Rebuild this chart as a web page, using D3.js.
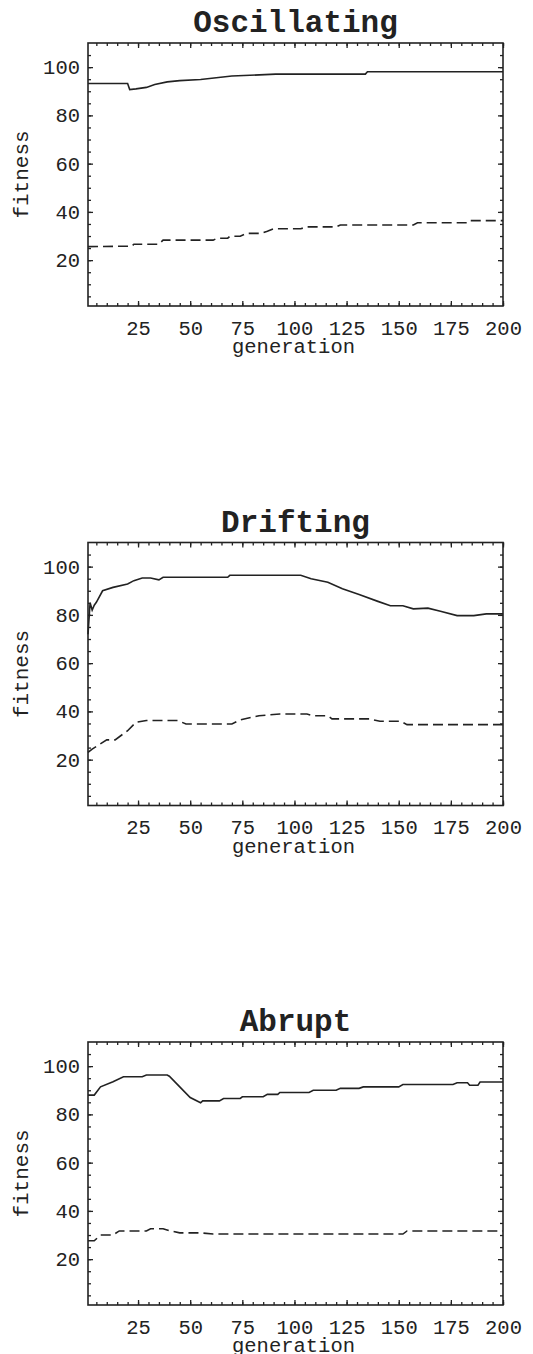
<!DOCTYPE html>
<html>
<head>
<meta charset="utf-8">
<script src="https://cdn.jsdelivr.net/npm/d3@7"></script>
<style>
  body { margin: 0; background: #fff; }
  svg text { font-family: "Liberation Mono", "Courier New", monospace; fill: #222; }
</style>
</head>
<body>
<div id="chart"></div>
<script>
// panel titles
const titles = ['Oscillating', 'Drifting', 'Abrupt'];

// best-of-generation fitness, [generation, fitness]
const oscillatingBest = [[1, 93.2], [20, 93.2], [21, 90.7], [24, 91.0], [29, 91.6], [33, 92.8], [39, 93.9],
  [45, 94.4], [55, 94.9], [70, 96.3], [91, 97.1], [134, 97.1], [135, 98.1], [200, 98.1]];
const driftingBest = [[1, 72], [2, 85], [3, 82], [4, 84], [5, 85.2], [8, 90], [13, 91.4], [20, 92.8],
  [23, 94.2], [27, 95.3], [31, 95.3], [35, 94.5], [37, 95.6], [68, 95.6], [69, 96.4], [103, 96.4],
  [108, 95], [116, 93.5], [123, 90.8], [131, 88.4], [140, 85.6], [146, 83.8], [152, 83.8], [157, 82.5],
  [164, 82.8], [170, 81.5], [178, 79.7], [186, 79.7], [192, 80.4], [200, 80.4]];
const abruptBest = [[1, 88], [4, 88], [7, 91.4], [13, 93.5], [18, 95.6], [27, 95.6], [29, 96.3], [39, 96.3],
  [40, 95.8], [45, 91.4], [50, 87.0], [55, 84.8], [56, 85.6], [64, 85.6], [66, 86.6], [74, 86.6],
  [75, 87.3], [85, 87.3], [87, 88.3], [92, 88.3], [93, 89.1], [107, 89.1], [109, 90.0], [120, 90.0],
  [122, 90.8], [131, 90.8], [133, 91.4], [150, 91.4], [152, 92.4], [176, 92.4], [178, 93.1], [183, 93.1],
  [184, 92.1], [188, 92.1], [189, 93.4], [200, 93.4]];

// average fitness, [generation, fitness]
const oscillatingAvg = [[1, 25.6], [22, 25.8], [23, 26.6], [35, 26.6], [37, 28.3], [61, 28.3], [63, 29.1],
  [68, 29.1], [69, 29.9], [74, 29.9], [77, 31.1], [84, 31.1], [87, 32.0], [90, 33.0], [103, 33.0],
  [106, 33.8], [120, 33.8], [122, 34.6], [157, 34.6], [159, 35.5], [183, 35.5], [184, 36.4], [200, 36.4]];
const driftingAvg = [[1, 23], [3, 24.4], [10, 28.2], [14, 28.2], [20, 32], [24, 35.5], [29, 36.2], [44, 36.2],
  [48, 34.8], [70, 34.8], [74, 36.5], [83, 38.2], [93, 38.9], [106, 38.9], [109, 38.2], [116, 38.2],
  [118, 36.9], [136, 36.9], [141, 35.9], [151, 35.9], [154, 34.5], [200, 34.5]];
const abruptAvg = [[1, 27.6], [4, 27.6], [7, 30], [13, 30], [16, 31.7], [29, 31.7], [31, 32.6], [37, 32.6],
  [40, 31.8], [45, 30.9], [55, 30.9], [61, 30.4], [152, 30.4], [154, 31.7], [200, 31.7]];

const bestSeries = [oscillatingBest, driftingBest, abruptBest];
const avgSeries = [oscillatingAvg, driftingAvg, abruptAvg];

// axis ticks
const xLabelTicks = [25, 50, 75, 100, 125, 150, 175, 200];
const xMinorTicks = d3.range(5, 201, 5);
const yLabelTicks = [20, 40, 60, 80, 100];
const yMinorTicks = d3.range(5, 110, 5);

const W = 533, H = 1354;
const left = 88, right = 503, plotH = 263;
const panelStep = 499.5, firstTop = 43;

const svg = d3.select('#chart').append('svg')
  .attr('width', W)
  .attr('height', H);

const x = d3.scaleLinear().domain([1, 200]).range([left, right]);

titles.forEach((title, i) => {
  const top = firstTop + i * panelStep;
  const bottom = top + plotH;
  const y = d3.scaleLinear().domain([1, 110]).range([bottom, top]);
  const g = svg.append('g');

  // title
  g.append('text')
    .attr('x', (left + right) / 2)
    .attr('y', top - 11)
    .attr('text-anchor', 'middle')
    .style('font-size', '31px')
    .style('font-weight', 'bold')
    .text(title);

  // minor ticks, inward, on all four sides
  g.append('g').attr('transform', `translate(0,${bottom})`)
    .call(d3.axisBottom(x).tickValues(xMinorTicks).tickSize(-3).tickFormat(''));
  g.append('g').attr('transform', `translate(0,${top})`)
    .call(d3.axisTop(x).tickValues(xMinorTicks).tickSize(-3).tickFormat(''));
  g.append('g').attr('transform', `translate(${left},0)`)
    .call(d3.axisLeft(y).tickValues(yMinorTicks).tickSize(-3).tickFormat(''));
  g.append('g').attr('transform', `translate(${right},0)`)
    .call(d3.axisRight(y).tickValues(yMinorTicks).tickSize(-3).tickFormat(''));

  // major ticks with labels
  g.append('g').attr('transform', `translate(0,${bottom})`)
    .call(d3.axisBottom(x).tickValues(xLabelTicks).tickSize(-5).tickPadding(14));
  g.append('g').attr('transform', `translate(0,${top})`)
    .call(d3.axisTop(x).tickValues(xLabelTicks).tickSize(-5).tickFormat(''));
  g.append('g').attr('transform', `translate(${left},0)`)
    .call(d3.axisLeft(y).tickValues(yLabelTicks).tickSize(-5).tickPadding(8));
  g.append('g').attr('transform', `translate(${right},0)`)
    .call(d3.axisRight(y).tickValues(yLabelTicks).tickSize(-5).tickFormat(''));

  g.selectAll('.domain').remove();
  g.selectAll('.tick line').attr('stroke', '#222').attr('stroke-width', 1.3);
  g.selectAll('.tick text').style('font-size', '20.5px').attr('fill', '#222');

  // frame
  g.append('rect')
    .attr('x', left).attr('y', top)
    .attr('width', right - left).attr('height', plotH)
    .attr('fill', 'none')
    .attr('stroke', '#222')
    .attr('stroke-width', 1.6);

  const line = d3.line().x(d => x(d[0])).y(d => y(d[1]));

  g.append('path')
    .attr('d', line(bestSeries[i]))
    .attr('fill', 'none')
    .attr('stroke', '#222')
    .attr('stroke-width', 1.6);

  g.append('path')
    .attr('d', line(avgSeries[i]))
    .attr('fill', 'none')
    .attr('stroke', '#222')
    .attr('stroke-width', 1.6)
    .attr('stroke-dasharray', '10,5');

  // axis labels
  g.append('text')
    .attr('x', (left + right) / 2 - 2)
    .attr('y', bottom + 47)
    .attr('text-anchor', 'middle')
    .style('font-size', '20.5px')
    .text('generation');

  g.append('text')
    .attr('transform', `translate(28,${(top + bottom) / 2}) rotate(-90)`)
    .attr('text-anchor', 'middle')
    .style('font-size', '21px')
    .text('fitness');
});
</script>
</body>
</html>
